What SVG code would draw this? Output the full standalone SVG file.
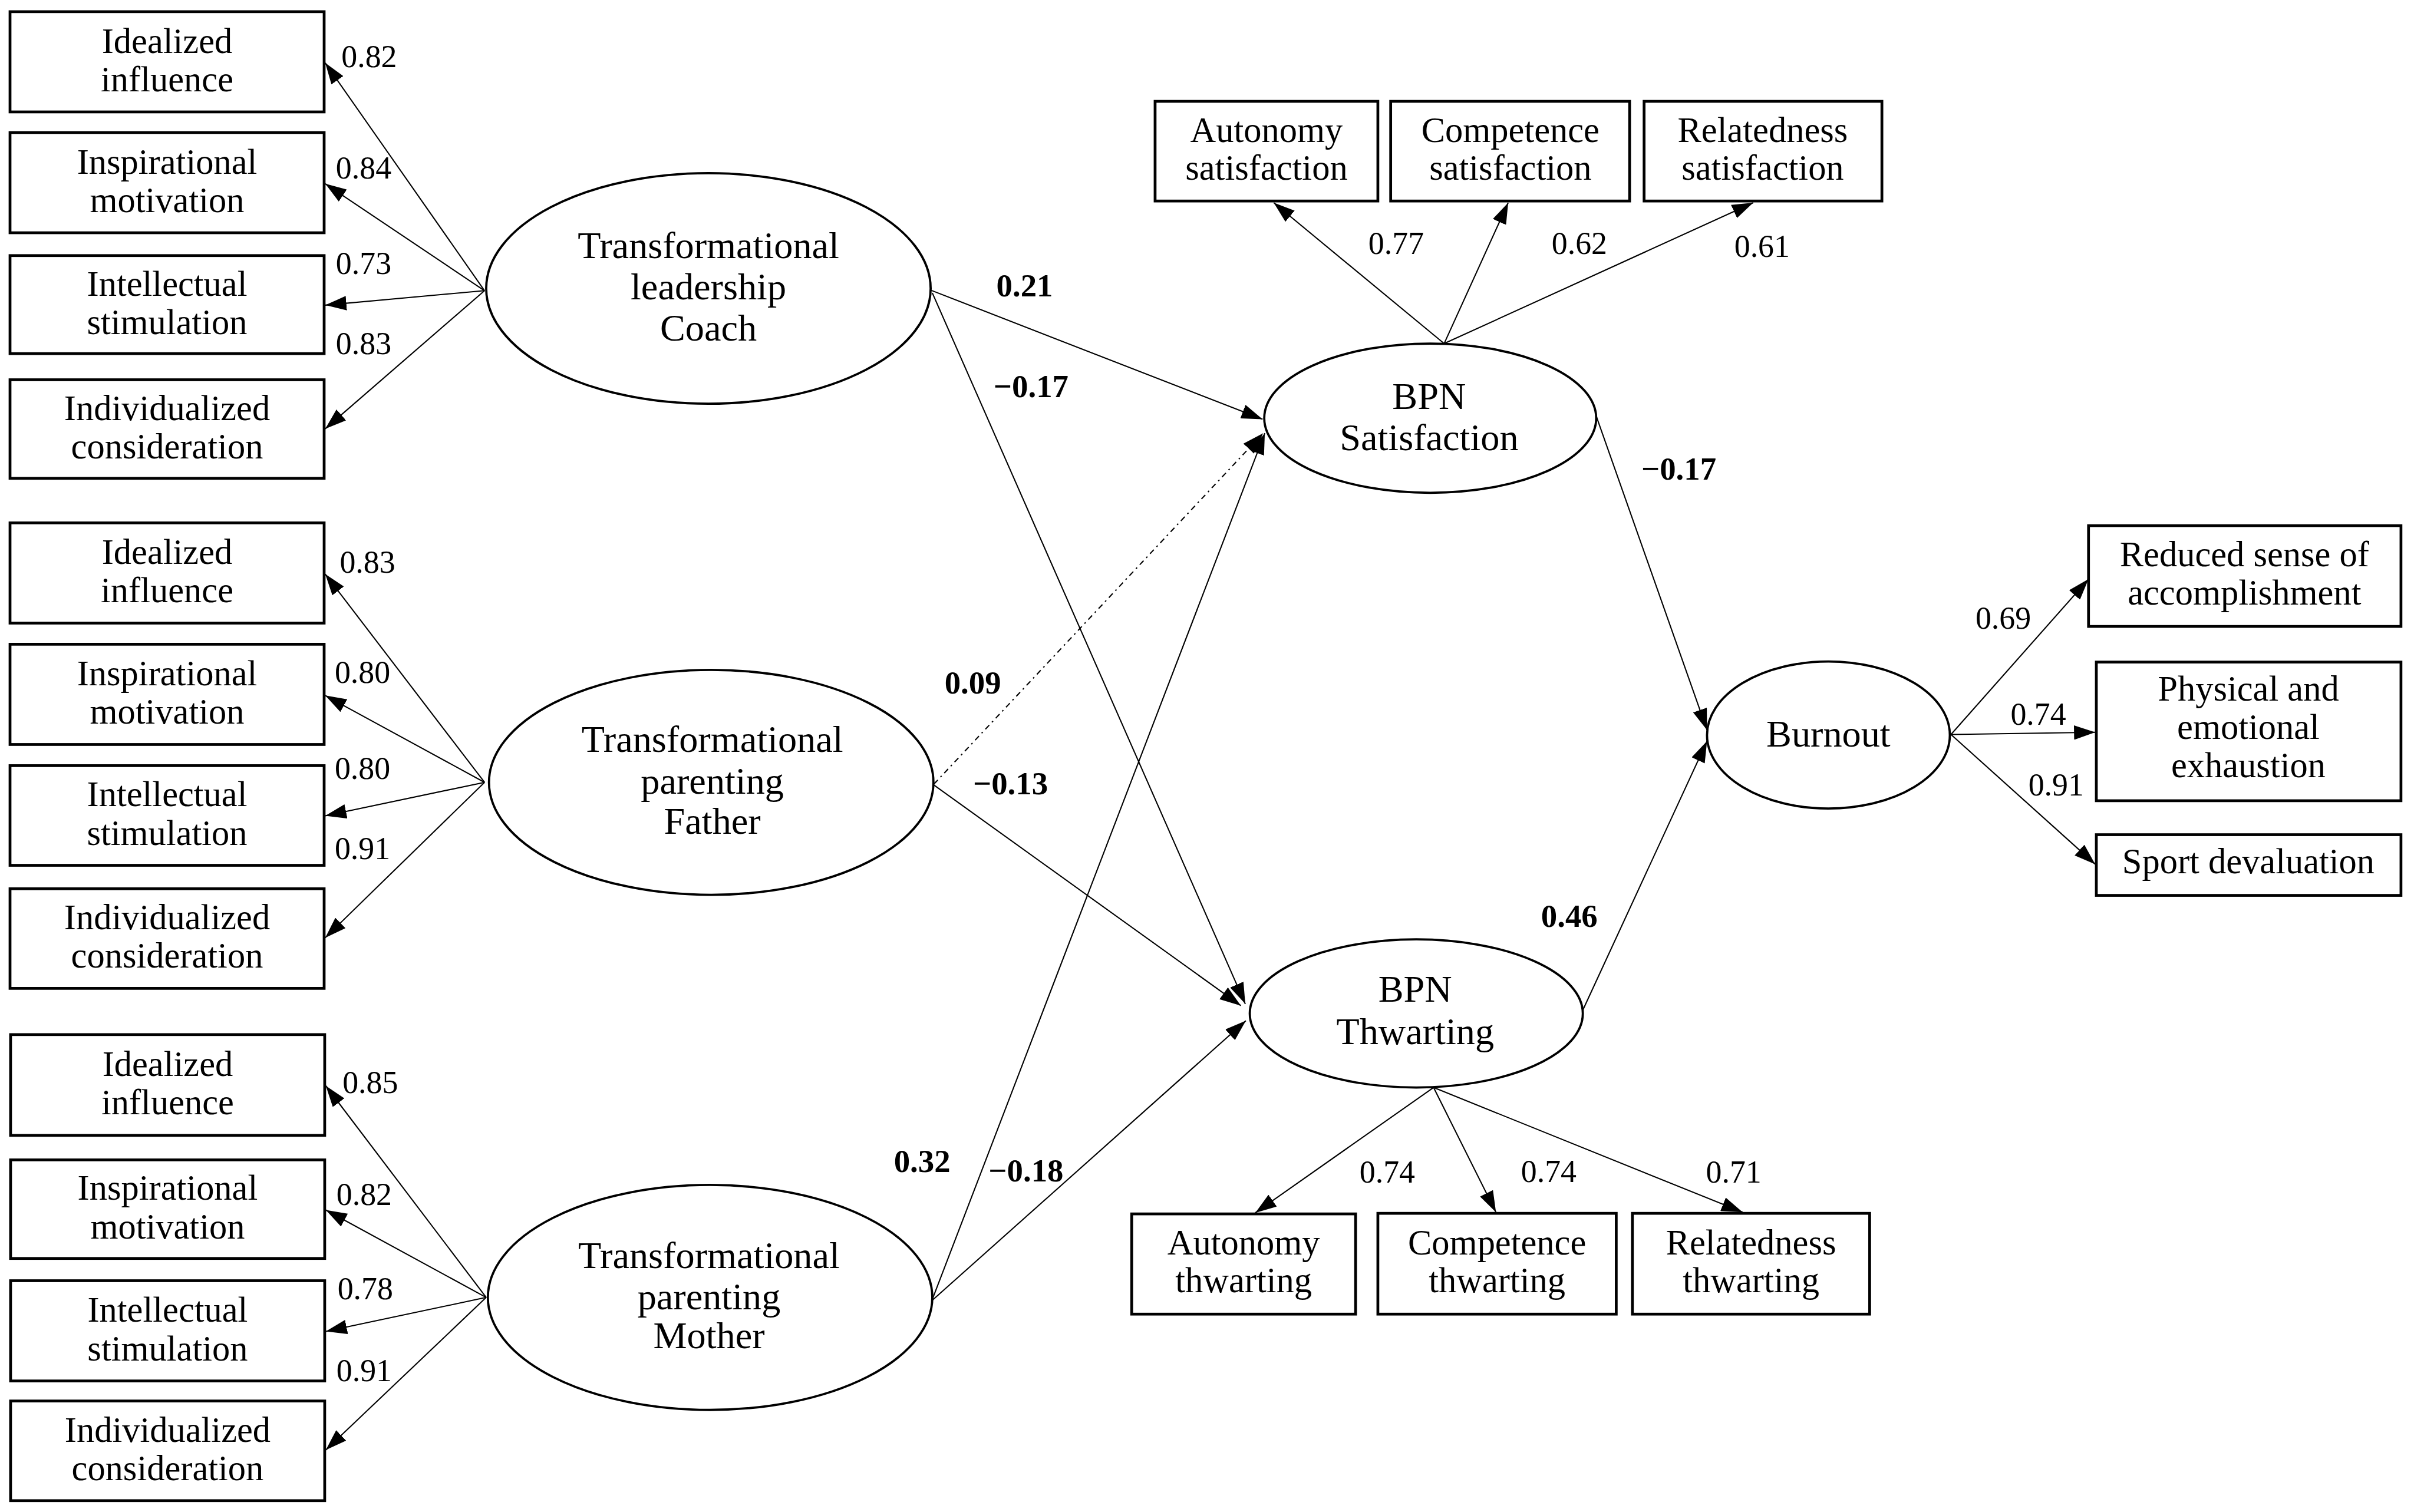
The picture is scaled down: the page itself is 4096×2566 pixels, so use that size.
<svg xmlns="http://www.w3.org/2000/svg" width="4096" height="2566" viewBox="0 0 4096 2566">
<style>
.box{fill:#fff;stroke:#000;stroke-width:5}
.ell{fill:#fff;stroke:#000;stroke-width:4}
.t{font-family:"Liberation Serif","Times New Roman",serif;font-size:64px;text-anchor:middle;fill:#000}
.te{font-size:68px}
.lbl{font-family:"Liberation Serif","Times New Roman",serif;font-size:57px;fill:#000}
.b{font-weight:bold;font-size:58px}
.c{fill:none;stroke:#000;stroke-width:2.2;marker-end:url(#ah)}
.d{stroke-dasharray:10 7 3 7}
</style>
<defs>
<marker id="ah" markerUnits="userSpaceOnUse" markerWidth="40" markerHeight="26" refX="38" refY="13" orient="auto">
<path d="M0,0 L38,13 L0,26 z" fill="#000"/>
</marker>
</defs>
<rect x="0" y="0" width="4096" height="2566" fill="#fff"/>
<g transform="scale(0.945)">
<!-- Left group 1 -->
<g id="c-ii"><rect class="box" x="18" y="21" width="564" height="180"/><text class="t" x="300" y="95">Idealized</text><text class="t" x="300" y="164">influence</text></g>
<g id="c-im"><rect class="box" x="18" y="238" width="564" height="180"/><text class="t" x="300" y="312">Inspirational</text><text class="t" x="300" y="381">motivation</text></g>
<g id="c-is"><rect class="box" x="18" y="459" width="564" height="176"/><text class="t" x="300" y="531">Intellectual</text><text class="t" x="300" y="600">stimulation</text></g>
<g id="c-ic"><rect class="box" x="18" y="682" width="564" height="177"/><text class="t" x="300" y="754">Individualized</text><text class="t" x="300" y="823">consideration</text></g>
<!-- Left group 2 -->
<g id="f-ii"><rect class="box" x="18" y="939" width="564" height="180"/><text class="t" x="300" y="1013">Idealized</text><text class="t" x="300" y="1082">influence</text></g>
<g id="f-im"><rect class="box" x="18" y="1157" width="564" height="180"/><text class="t" x="300" y="1231">Inspirational</text><text class="t" x="300" y="1300">motivation</text></g>
<g id="f-is"><rect class="box" x="18" y="1375" width="564" height="179"/><text class="t" x="300" y="1448">Intellectual</text><text class="t" x="300" y="1517">stimulation</text></g>
<g id="f-ic"><rect class="box" x="18" y="1596" width="564" height="179"/><text class="t" x="300" y="1669">Individualized</text><text class="t" x="300" y="1738">consideration</text></g>
<!-- Left group 3 -->
<g id="m-ii"><rect class="box" x="19" y="1858" width="564" height="181"/><text class="t" x="301" y="1932">Idealized</text><text class="t" x="301" y="2001">influence</text></g>
<g id="m-im"><rect class="box" x="19" y="2083" width="564" height="177"/><text class="t" x="301" y="2155">Inspirational</text><text class="t" x="301" y="2224">motivation</text></g>
<g id="m-is"><rect class="box" x="19" y="2300" width="564" height="180"/><text class="t" x="301" y="2374">Intellectual</text><text class="t" x="301" y="2443">stimulation</text></g>
<g id="m-ic"><rect class="box" x="19" y="2516" width="564" height="179"/><text class="t" x="301" y="2589">Individualized</text><text class="t" x="301" y="2658">consideration</text></g>
<!-- Latent exogenous -->
<g id="coach"><ellipse class="ell" cx="1272" cy="518" rx="399" ry="207"/><text class="t te" x="1272" y="463">Transformational</text><text class="t te" x="1272" y="538">leadership</text><text class="t te" x="1272" y="612">Coach</text></g>
<g id="father"><ellipse class="ell" cx="1277" cy="1405" rx="399" ry="202"/><text class="t te" x="1279" y="1350">Transformational</text><text class="t te" x="1279" y="1425">parenting</text><text class="t te" x="1279" y="1497">Father</text></g>
<g id="mother"><ellipse class="ell" cx="1275" cy="2330" rx="399" ry="202"/><text class="t te" x="1273" y="2277">Transformational</text><text class="t te" x="1273" y="2351">parenting</text><text class="t te" x="1273" y="2421">Mother</text></g>
<!-- BPN satisfaction -->
<g id="sat"><ellipse class="ell" cx="2568" cy="751" rx="298" ry="134"/><text class="t te" x="2566" y="734">BPN</text><text class="t te" x="2566" y="808">Satisfaction</text></g>
<g id="as"><rect class="box" x="2074" y="182" width="400" height="179"/><text class="t" x="2274" y="255">Autonomy</text><text class="t" x="2274" y="323">satisfaction</text></g>
<g id="cs"><rect class="box" x="2497" y="182" width="429" height="179"/><text class="t" x="2712" y="255">Competence</text><text class="t" x="2712" y="323">satisfaction</text></g>
<g id="rs"><rect class="box" x="2952" y="182" width="427" height="179"/><text class="t" x="3165" y="255">Relatedness</text><text class="t" x="3165" y="323">satisfaction</text></g>
<!-- BPN thwarting -->
<g id="thw"><ellipse class="ell" cx="2543" cy="1820" rx="299" ry="133"/><text class="t te" x="2541" y="1799">BPN</text><text class="t te" x="2541" y="1875">Thwarting</text></g>
<g id="at"><rect class="box" x="2032" y="2180" width="402" height="180"/><text class="t" x="2233" y="2253">Autonomy</text><text class="t" x="2233" y="2321">thwarting</text></g>
<g id="ct"><rect class="box" x="2474" y="2179" width="428" height="181"/><text class="t" x="2688" y="2253">Competence</text><text class="t" x="2688" y="2321">thwarting</text></g>
<g id="rt"><rect class="box" x="2931" y="2179" width="426" height="181"/><text class="t" x="3144" y="2253">Relatedness</text><text class="t" x="3144" y="2321">thwarting</text></g>
<!-- Burnout -->
<g id="burnout"><ellipse class="ell" cx="3283" cy="1320" rx="218" ry="132"/><text class="t te" x="3283" y="1341">Burnout</text></g>
<g id="rsa"><rect class="box" x="3750" y="944" width="561" height="181"/><text class="t" x="4030" y="1017">Reduced sense of</text><text class="t" x="4030" y="1086">accomplishment</text></g>
<g id="pee"><rect class="box" x="3764" y="1189" width="547" height="249"/><text class="t" x="4037" y="1258">Physical and</text><text class="t" x="4037" y="1327">emotional</text><text class="t" x="4037" y="1396">exhaustion</text></g>
<g id="sd"><rect class="box" x="3764" y="1499" width="547" height="109"/><text class="t" x="4037" y="1568">Sport devaluation</text></g>
<!-- Connectors -->
<g id="connectors">
<line class="c" x1="870" y1="522" x2="584" y2="113"/>
<line class="c" x1="870" y1="522" x2="584" y2="330"/>
<line class="c" x1="870" y1="522" x2="584" y2="548"/>
<line class="c" x1="870" y1="522" x2="584" y2="770"/>
<line class="c" x1="870" y1="1405" x2="584" y2="1031"/>
<line class="c" x1="870" y1="1405" x2="584" y2="1249"/>
<line class="c" x1="870" y1="1405" x2="584" y2="1465"/>
<line class="c" x1="870" y1="1405" x2="584" y2="1684"/>
<line class="c" x1="873" y1="2330" x2="585" y2="1950"/>
<line class="c" x1="873" y1="2330" x2="585" y2="2173"/>
<line class="c" x1="873" y1="2330" x2="585" y2="2391"/>
<line class="c" x1="873" y1="2330" x2="585" y2="2604"/>
<line class="c" x1="1671" y1="521" x2="2267" y2="753"/>
<line class="c" x1="1674" y1="526" x2="2236" y2="1803"/>
<line class="c d" x1="1677" y1="1408" x2="2268" y2="778"/>
<line class="c" x1="1677" y1="1410" x2="2228" y2="1806"/>
<line class="c" x1="1673" y1="2336" x2="2271" y2="778"/>
<line class="c" x1="1673" y1="2336" x2="2237" y2="1833"/>
<line class="c" x1="2593" y1="617" x2="2287" y2="364"/>
<line class="c" x1="2593" y1="617" x2="2708" y2="364"/>
<line class="c" x1="2593" y1="617" x2="3148" y2="364"/>
<line class="c" x1="2574" y1="1953" x2="2254" y2="2178"/>
<line class="c" x1="2574" y1="1953" x2="2686" y2="2177"/>
<line class="c" x1="2574" y1="1953" x2="3129" y2="2177"/>
<line class="c" x1="2866" y1="747" x2="3065" y2="1311"/>
<line class="c" x1="2842" y1="1814" x2="3065" y2="1331"/>
<line class="c" x1="3503" y1="1319" x2="3750" y2="1040"/>
<line class="c" x1="3503" y1="1319" x2="3762" y2="1315"/>
<line class="c" x1="3503" y1="1319" x2="3762" y2="1552"/>
</g>
<!-- Labels -->
<g id="labels">
<text class="lbl" x="613" y="121">0.82</text>
<text class="lbl" x="603" y="321">0.84</text>
<text class="lbl" x="603" y="492">0.73</text>
<text class="lbl" x="603" y="636">0.83</text>
<text class="lbl" x="610" y="1029">0.83</text>
<text class="lbl" x="601" y="1227">0.80</text>
<text class="lbl" x="601" y="1399">0.80</text>
<text class="lbl" x="601" y="1543">0.91</text>
<text class="lbl" x="615" y="1963">0.85</text>
<text class="lbl" x="604" y="2164">0.82</text>
<text class="lbl" x="606" y="2333">0.78</text>
<text class="lbl" x="604" y="2480">0.91</text>
<text class="lbl" x="2457" y="456">0.77</text>
<text class="lbl" x="2786" y="456">0.62</text>
<text class="lbl" x="3114" y="461">0.61</text>
<text class="lbl" x="2441" y="2124">0.74</text>
<text class="lbl" x="2731" y="2123">0.74</text>
<text class="lbl" x="3063" y="2124">0.71</text>
<text class="lbl" x="3547" y="1129">0.69</text>
<text class="lbl" x="3610" y="1302">0.74</text>
<text class="lbl" x="3642" y="1429">0.91</text>
<text class="lbl b" x="1789" y="532">0.21</text>
<text class="lbl b" x="1784" y="713">−0.17</text>
<text class="lbl b" x="1696" y="1246">0.09</text>
<text class="lbl b" x="1747" y="1427">−0.13</text>
<text class="lbl b" x="1605" y="2105">0.32</text>
<text class="lbl b" x="1775" y="2122">−0.18</text>
<text class="lbl b" x="2947" y="861">−0.17</text>
<text class="lbl b" x="2767" y="1665">0.46</text>
</g>
</g>
</svg>
